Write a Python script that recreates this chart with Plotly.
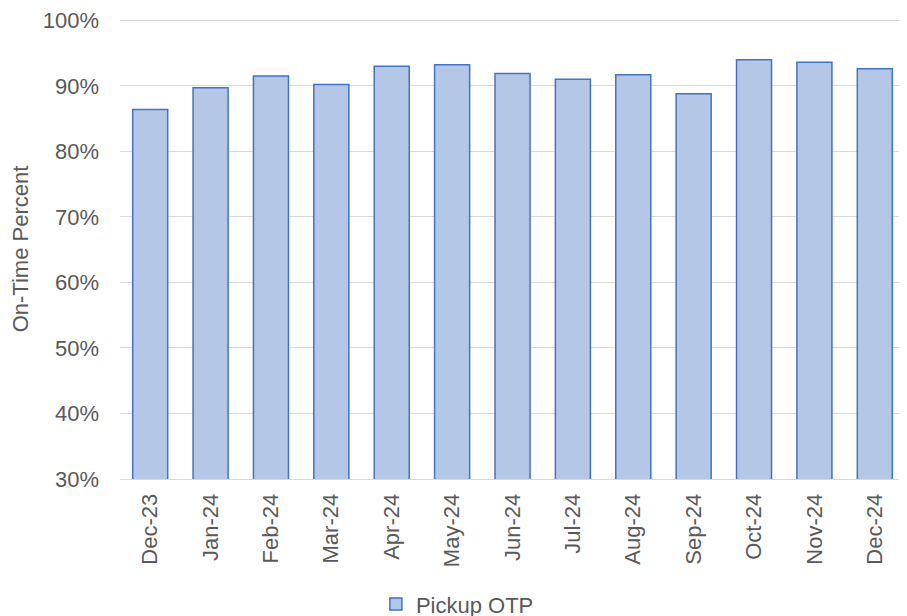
import plotly.graph_objects as go

months = ["Dec-23", "Jan-24", "Feb-24", "Mar-24", "Apr-24", "May-24", "Jun-24",
          "Jul-24", "Aug-24", "Sep-24", "Oct-24", "Nov-24", "Dec-24"]
pickup_otp = [0.864, 0.897, 0.915, 0.902, 0.930, 0.932, 0.919,
              0.910, 0.917, 0.888, 0.940, 0.936, 0.926]
y_ticks = [0.3, 0.4, 0.5, 0.6, 0.7, 0.8, 0.9, 1.0]
y_tick_labels = ["30%", "40%", "50%", "60%", "70%", "80%", "90%", "100%"]

fig = go.Figure()
fig.add_trace(go.Bar(
    x=months, y=pickup_otp, name="Pickup OTP",
    marker=dict(color="#B4C7E7", line=dict(color="#4472C4", width=1.5)),
))

font = "Liberation Sans, Arial, sans-serif"
fs = 22
fig.update_layout(
    width=907, height=616,
    margin=dict(l=112, r=10, t=11, b=145, autoexpand=False),
    paper_bgcolor="white", plot_bgcolor="white",
    bargap=0.42,
    font=dict(family=font, size=fs, color="#595959"),
    showlegend=True,
    legend=dict(orientation="h", x=0.326, xanchor="left", y=-0.272, yanchor="middle",
                font=dict(size=fs, color="#595959"), itemwidth=30),
    xaxis=dict(tickangle=-90, showline=True, linecolor="#D9D9D9", linewidth=1,
               ticks="", showgrid=False, automargin=False, ticklabelstandoff=5,
               tickfont=dict(size=fs, color="#595959")),
    yaxis=dict(range=[0.3, 1.002], tickvals=y_ticks, ticktext=y_tick_labels,
               showgrid=True, gridcolor="#D9D9D9", gridwidth=1, zeroline=False,
               showline=False, ticks="", ticklabelstandoff=20, automargin=False,
               ticklabeloverflow="allow",
               title=dict(text="On-Time Percent", font=dict(size=fs, color="#595959"), standoff=8),
               tickfont=dict(size=fs, color="#595959")),
)

fig.write_html("out.html")
